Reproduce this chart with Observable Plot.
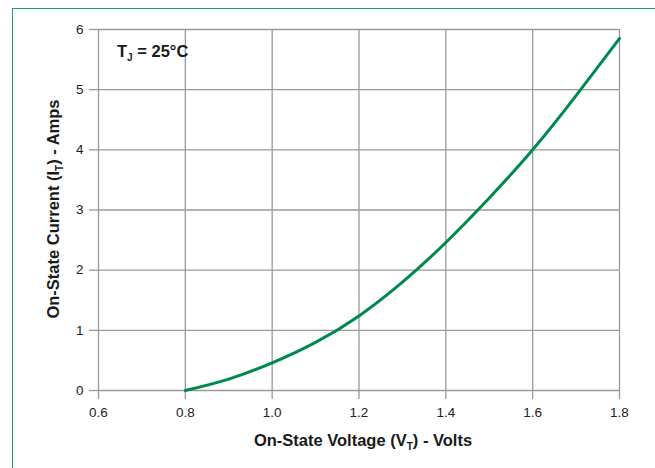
<!DOCTYPE html>
<html>
<head>
<meta charset="utf-8">
<script src="https://cdn.jsdelivr.net/npm/d3@7"></script>
<script src="https://cdn.jsdelivr.net/npm/@observablehq/plot@0.6"></script>
<style>
  html, body { margin: 0; padding: 0; background: #fff; overflow: hidden; }
  #wrap { position: relative; width: 655px; height: 468px; }
  #border { position: absolute; left: 12px; top: 8px; width: 700px; height: 500px;
            border-left: 1.5px solid #17a068; border-top: 1.5px solid #17a068; }
  #chart { position: absolute; left: 0; top: 0; }
  svg text { font-family: "Liberation Sans", Arial, Helvetica, sans-serif; }
</style>
</head>
<body>
<div id="wrap"><div id="border"></div><div id="chart"></div></div>
<script>
// On-state voltage (V) and on-state current (A)
const voltage = [0.80, 0.90, 1.00, 1.10, 1.20, 1.30, 1.40, 1.50, 1.60, 1.70, 1.80];
const current = [0.00, 0.19, 0.46, 0.80, 1.24, 1.80, 2.46, 3.20, 4.00, 4.90, 5.85];
const xTicks = [0.6, 0.8, 1.0, 1.2, 1.4, 1.6, 1.8];
const yTicks = [0, 1, 2, 3, 4, 5, 6];
const xLabel = ["On-State Voltage (V", "T", ") - Volts"];
const yLabel = ["On-State Current (I", "T", ") - Amps"];
const note = ["T", "J", " = 25°C"];

const data = voltage.map((v, i) => ({v, i: current[i]}));
const grid = "#9a9a9a";

const chart = Plot.plot({
  width: 655,
  height: 468,
  marginLeft: 98,
  marginRight: 36,
  marginTop: 29,
  marginBottom: 78,
  style: {background: "transparent", color: "#222"},
  x: {domain: [0.6, 1.8]},
  y: {domain: [0, 6]},
  marks: [
    Plot.gridX(xTicks, {stroke: grid, strokeOpacity: 1, strokeWidth: 1.3}),
    Plot.gridY(yTicks, {stroke: grid, strokeOpacity: 1, strokeWidth: 1.3}),
    Plot.axisX(xTicks, {tickSize: 9, tickPadding: 8, stroke: grid, strokeWidth: 1.3, tickFormat: d => d.toFixed(1), label: null, fill: "#222"}),
    Plot.axisY(yTicks, {tickSize: 9, tickPadding: 6, stroke: grid, strokeWidth: 1.3, tickFormat: d => String(d), label: null, fill: "#222"}),
    Plot.line(data, {x: "v", y: "i", stroke: "#00894f", strokeWidth: 3, curve: "natural"})
  ]
});
document.getElementById("chart").appendChild(chart);

const svg = d3.select(chart);
// enlarge tick labels
svg.selectAll("g[aria-label$='tick label']").attr("font-size", 13.5).style("font-size", "13.5px")
  .selectAll("text").style("font-size", "13.5px");

function subText(parts, attrs) {
  const t = svg.append("text")
    .attr("font-weight", "bold")
    .attr("font-size", 16.5)
    .attr("fill", "#1a1a1a")
    .attr("text-anchor", attrs.anchor || "middle")
    .attr("transform", attrs.transform);
  t.append("tspan").text(parts[0]);
  t.append("tspan").attr("font-size", 10).attr("dy", 4).text(parts[1]);
  t.append("tspan").attr("dy", -4).text(parts[2]);
  return t;
}
subText(xLabel, {transform: "translate(363,446)"});
subText(yLabel, {transform: "translate(59,209) rotate(-90)"});
subText(note, {anchor: "start", transform: "translate(117,57)"});
</script>
</body>
</html>
